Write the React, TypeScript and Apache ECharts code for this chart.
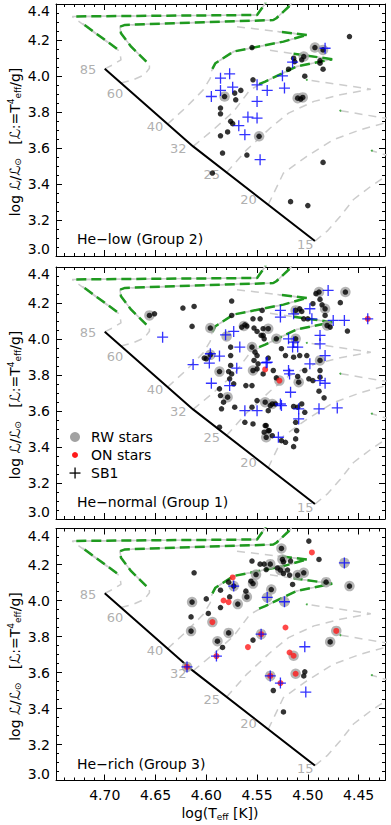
import React, { useEffect, useRef } from "react";
import * as echarts from "echarts";

const FONT = "'DejaVu Sans', sans-serif";
const X_MIN = 4.424;
const X_MAX = 4.748;
const Y_MIN = 3.0;
const Y_MAX = 4.4;
const xMajorTicks = [4.45, 4.5, 4.55, 4.6, 4.65, 4.7];
const xMinorTicks = [4.43, 4.44, 4.46, 4.47, 4.48, 4.49, 4.51, 4.52, 4.53, 4.54, 4.56, 4.57, 4.58, 4.59, 4.61, 4.62, 4.63, 4.64, 4.66, 4.67, 4.68, 4.69, 4.71, 4.72, 4.73, 4.74];

const GRID_LEFT = 56;
const GRID_W = 329;
const GRID_H = 252;
const GRID_TOPS = [4, 267, 528.5];

const panelNames = ["He\u2212low (Group 2)", "He\u2212normal (Group 1)", "He\u2212rich (Group 3)"];
const legendNames = ["RW stars", "ON stars", "SB1"];

// ZAMS and evolutionary tracks (identical in every panel)
const zams = [[4.7, 4.04], [4.613, 3.609], [4.493, 3.083]];
const track85 = [[4.7, 4.04], [4.692, 4.062], [4.684, 4.09], [4.685, 4.127], [4.687, 4.145], [4.732, 4.33], [4.55, 4.339], [4.543, 4.395], [4.538, 4.45]];
const track60 = [[4.684, 3.961], [4.672, 3.979], [4.661, 4.006], [4.656, 4.043], [4.656, 4.062], [4.659, 4.08], [4.674, 4.163], [4.684, 4.237], [4.685, 4.274], [4.68, 4.284], [4.534, 4.311], [4.531, 4.321], [4.517, 4.395], [4.512, 4.45]];
const track40 = [[4.638, 3.733], [4.619, 3.831], [4.603, 3.923], [4.596, 3.988], [4.595, 4.025], [4.591, 4.071], [4.573, 4.136], [4.524, 4.191], [4.501, 4.228], [4.57, 4.274]];
const track32 = [[4.613, 3.609], [4.593, 3.702], [4.573, 3.803], [4.557, 3.923], [4.542, 3.969], [4.511, 4.053], [4.476, 4.093], [4.54, 4.145]];
const track25 = [[4.58, 3.464], [4.56, 3.591], [4.537, 3.711], [4.519, 3.794], [4.494, 3.859], [4.468, 3.896], [4.438, 3.927], [4.501, 3.979]];
const track20 = [[4.539, 3.285], [4.524, 3.461], [4.501, 3.554], [4.475, 3.646], [4.448, 3.702], [4.424, 3.739], [4.4, 3.775], [4.4, 3.785], [4.424, 3.766], [4.468, 3.807]];
const track15 = [[4.493, 3.083], [4.481, 3.138], [4.468, 3.221], [4.455, 3.314], [4.438, 3.387], [4.424, 3.439], [4.4, 3.47], [4.4, 3.55], [4.424, 3.563], [4.437, 3.585]];

const green85a = [[4.688, 4.152], [4.722, 4.292]];
const green85b = [[4.728, 4.331], [4.55, 4.339], [4.543, 4.395], [4.538, 4.45]];
const green60 = [[4.659, 4.08], [4.674, 4.163], [4.684, 4.237], [4.685, 4.274], [4.68, 4.284], [4.534, 4.311], [4.531, 4.321], [4.517, 4.395], [4.512, 4.45]];
const green40a = [[4.594, 4.04], [4.591, 4.071], [4.573, 4.136], [4.524, 4.191], [4.501, 4.228]];
const green40b = [[4.501, 4.228], [4.53, 4.247]];
const green32a = [[4.548, 3.955], [4.542, 3.969], [4.511, 4.053], [4.476, 4.093]];
const green32b = [[4.476, 4.093], [4.514, 4.124]];
const greenDots = [[4.501, 3.979], [4.468, 3.807], [4.437, 3.585]];

const massNames = ["85", "60", "40", "32", "25", "20", "15"];
const massLabelPos = [[4.7165, 4.034], [4.69, 3.905], [4.6506, 3.72], [4.6276, 3.596], [4.5947, 3.452], [4.5585, 3.314], [4.5026, 3.064]];

// Panel 1: He-low (Group 2)
const dots1 = [[4.555, 4.158], [4.459, 4.219], [4.493, 4.158], [4.485, 4.145], [4.514, 4.099], [4.513, 4.08], [4.506, 4.09], [4.504, 4.108], [4.488, 4.086], [4.488, 4.071], [4.485, 4.038], [4.519, 4.038], [4.503, 3.999], [4.554, 3.979], [4.566, 3.92], [4.572, 3.905], [4.571, 3.868], [4.582, 3.886], [4.586, 3.822], [4.586, 3.79], [4.576, 3.748], [4.574, 3.735], [4.579, 3.689], [4.586, 3.668], [4.548, 3.665], [4.51, 3.877], [4.507, 3.872], [4.505, 3.881], [4.584, 3.572], [4.56, 3.561], [4.594, 3.461], [4.485, 3.52], [4.517, 3.302], [4.5, 3.28]];
const rw1 = [[4.582, 3.886], [4.548, 3.665], [4.493, 4.158], [4.485, 4.145], [4.504, 4.108], [4.51, 3.877], [4.505, 3.881]];
const on1: number[][] = [];
const sb1_1 = [[4.586, 3.988], [4.577, 4.012], [4.595, 3.886], [4.586, 3.92], [4.574, 3.938], [4.55, 3.951], [4.54, 3.92], [4.55, 3.859], [4.559, 3.772], [4.55, 3.766], [4.568, 3.724], [4.562, 3.674], [4.547, 3.535], [4.525, 4.001], [4.523, 3.933], [4.515, 4.077], [4.483, 4.154]];

// Panel 2: He-normal (Group 1)
const dots2 = [[4.656, 4.131], [4.651, 4.14], [4.623, 4.172], [4.612, 4.181], [4.575, 4.211], [4.614, 4.07], [4.575, 4.131], [4.596, 4.061], [4.565, 4.066], [4.562, 4.079], [4.56, 4.072], [4.554, 4.112], [4.547, 4.112], [4.553, 4.061], [4.55, 4.042], [4.546, 4.02], [4.543, 4.001], [4.539, 4.057], [4.555, 3.955], [4.552, 3.927], [4.55, 3.908], [4.553, 3.881], [4.549, 3.862], [4.554, 3.825], [4.55, 3.834], [4.539, 3.894], [4.576, 3.955], [4.576, 3.908], [4.576, 3.853], [4.578, 3.819], [4.602, 3.894], [4.6, 3.89], [4.596, 3.912], [4.587, 3.819], [4.489, 4.261], [4.492, 4.252], [4.463, 4.261], [4.488, 4.22], [4.468, 4.202], [4.545, 4.159], [4.512, 4.159], [4.508, 4.168], [4.506, 4.153], [4.483, 4.168], [4.486, 4.19], [4.495, 4.196], [4.483, 4.131], [4.504, 4.112], [4.5, 4.112], [4.481, 4.075], [4.478, 4.066], [4.461, 4.044], [4.531, 4.001], [4.512, 4.001], [4.544, 4.057], [4.544, 4.02], [4.526, 3.946], [4.522, 3.908], [4.514, 3.899], [4.508, 3.908], [4.501, 3.908], [4.503, 3.825], [4.534, 3.825], [4.488, 3.825], [4.488, 3.881], [4.575, 3.806], [4.577, 3.779], [4.573, 3.751], [4.561, 3.741], [4.555, 3.741], [4.587, 3.723], [4.586, 3.686], [4.579, 3.677], [4.583, 3.649], [4.585, 3.612], [4.572, 3.621], [4.555, 3.621], [4.55, 3.658], [4.542, 3.649], [4.539, 3.602], [4.562, 3.537], [4.554, 3.528], [4.542, 3.519], [4.539, 3.491], [4.587, 3.51], [4.544, 3.806], [4.531, 3.784], [4.51, 3.792], [4.499, 3.779], [4.495, 3.769], [4.488, 3.788], [4.509, 3.76], [4.489, 3.71], [4.484, 3.673], [4.535, 3.639], [4.537, 3.63], [4.532, 3.639], [4.51, 3.621], [4.506, 3.639], [4.514, 3.625], [4.503, 3.593], [4.512, 3.537], [4.511, 3.491], [4.512, 3.445], [4.514, 3.402], [4.541, 3.519], [4.543, 3.482], [4.538, 3.491], [4.535, 3.463], [4.541, 3.454], [4.526, 3.435], [4.522, 3.426]];
const rw2 = [[4.656, 4.131], [4.596, 4.061], [4.563, 4.072], [4.539, 4.057], [4.555, 3.955], [4.554, 3.825], [4.596, 3.912], [4.587, 3.819], [4.489, 4.261], [4.463, 4.261], [4.512, 4.159], [4.483, 4.168], [4.481, 4.075], [4.531, 4.001], [4.512, 4.001], [4.488, 3.881], [4.579, 3.677], [4.542, 3.649], [4.541, 3.454], [4.528, 3.769], [4.509, 3.76], [4.535, 3.639], [4.58, 4.014]];
const on2 = [[4.542, 3.831], [4.528, 3.769], [4.441, 4.112]];
const sb1_2 = [[4.643, 4.01], [4.613, 3.858], [4.596, 3.918], [4.597, 3.866], [4.587, 3.905], [4.581, 4.023], [4.573, 4.042], [4.567, 3.955], [4.57, 3.838], [4.541, 3.868], [4.527, 4.159], [4.527, 4.122], [4.514, 4.14], [4.498, 4.168], [4.48, 4.27], [4.475, 4.103], [4.464, 4.103], [4.496, 4.112], [4.441, 4.112], [4.519, 4.001], [4.514, 3.983], [4.51, 3.955], [4.515, 3.955], [4.488, 4.02], [4.488, 3.973], [4.483, 3.908], [4.54, 3.871], [4.498, 3.862], [4.519, 3.825], [4.595, 3.754], [4.577, 3.741], [4.562, 3.602], [4.55, 3.602], [4.518, 3.806], [4.488, 3.769], [4.483, 3.754], [4.517, 3.704], [4.527, 3.639], [4.526, 3.63], [4.509, 3.612], [4.489, 3.612], [4.471, 3.617], [4.509, 3.556], [4.529, 3.454]];

// Panel 3: He-rich (Group 3)
const dots3 = [[4.499, 4.33], [4.526, 4.289], [4.489, 4.228], [4.555, 4.219], [4.547, 4.202], [4.543, 4.202], [4.537, 4.202], [4.525, 4.228], [4.524, 4.215], [4.517, 4.219], [4.53, 4.181], [4.527, 4.169], [4.524, 4.15], [4.52, 4.169], [4.518, 4.141], [4.541, 4.172], [4.551, 4.144], [4.51, 4.141], [4.504, 4.154], [4.515, 4.089], [4.482, 4.102], [4.459, 4.08], [4.556, 4.107], [4.554, 4.094], [4.578, 4.102], [4.573, 4.08], [4.586, 4.057], [4.577, 4.02], [4.569, 3.98], [4.561, 4.052], [4.56, 4.02], [4.536, 4.061], [4.6, 4.009], [4.615, 3.909], [4.614, 3.991], [4.598, 3.928], [4.615, 3.83], [4.589, 3.774], [4.584, 3.739], [4.578, 3.82], [4.554, 3.78], [4.478, 3.77], [4.534, 3.5], [4.504, 3.581], [4.503, 3.604], [4.524, 3.381], [4.586, 3.961], [4.612, 4.154]];
const rw3 = [[4.526, 4.289], [4.464, 4.209], [4.537, 4.202], [4.525, 4.228], [4.551, 4.144], [4.527, 4.169], [4.51, 4.141], [4.504, 4.154], [4.482, 4.102], [4.459, 4.08], [4.554, 4.094], [4.573, 4.08], [4.569, 3.98], [4.56, 4.02], [4.536, 4.061], [4.54, 4.017], [4.523, 3.993], [4.614, 3.991], [4.615, 3.83], [4.594, 3.88], [4.589, 3.774], [4.578, 3.82], [4.546, 3.813], [4.472, 3.831], [4.478, 3.77], [4.514, 3.693], [4.619, 3.631], [4.537, 3.581], [4.512, 3.593]];
const on3 = [[4.496, 4.267], [4.574, 4.128], [4.583, 4.0], [4.578, 3.991], [4.594, 3.88], [4.59, 3.691], [4.559, 3.741], [4.546, 3.813], [4.522, 3.85], [4.472, 3.831], [4.518, 3.711], [4.514, 3.693], [4.619, 3.631], [4.537, 3.581], [4.527, 3.541], [4.512, 3.593]];
const sb1_3 = [[4.464, 4.209], [4.573, 4.08], [4.54, 4.017], [4.523, 3.993], [4.59, 3.691], [4.546, 3.813], [4.503, 3.743], [4.619, 3.631], [4.537, 3.581], [4.527, 3.541], [4.502, 3.491]];

const panels = [
  { dots: dots1, rw: rw1, on: on1, sb1: sb1_1 },
  { dots: dots2, rw: rw2, on: on2, sb1: sb1_2 },
  { dots: dots3, rw: rw3, on: on3, sb1: sb1_3 },
];

const tracks = [track85, track60, track40, track32, track25, track20, track15];
const greenSegs = [green85a, green85b, green60, green40a, green40b, green32a, green32b];

const PLUS = "path://M4.4,0H5.6V4.4H10V5.6H5.6V10H4.4V5.6H0V4.4H4.4Z";
const GREY_TRACK = "#cccccc";
const GREEN = "#1f9a1f";
const RW_GREY = "#a2a2a2";
const RED = "#ff1a1a";
const BLUE = "#0000ff";

function buildOption() {
  const grid: any[] = [];
  const xAxis: any[] = [];
  const yAxis: any[] = [];
  const series: any[] = [];
  const graphic: any[] = [];
  const tickLine = { color: "#000", width: 1 };

  for (let g = 0; g < 3; g++) {
    grid.push({ left: GRID_LEFT, top: GRID_TOPS[g], width: GRID_W, height: GRID_H });
    const base = { gridIndex: g, type: "value", min: X_MIN, max: X_MAX, inverse: true, splitLine: { show: false } };
    xAxis.push({
      ...base, position: "bottom",
      axisLine: { show: true, onZero: false, lineStyle: tickLine },
      axisTick: { show: true, inside: true, length: 6, customValues: xMajorTicks, lineStyle: tickLine },
      axisLabel: { show: g === 2, customValues: xMajorTicks, formatter: (v: number) => v.toFixed(2), color: "#000", fontSize: 14, fontFamily: FONT, margin: 7 },
    });
    xAxis.push({
      ...base, position: "bottom",
      axisLine: { show: false },
      axisTick: { show: true, inside: true, length: 3, customValues: xMinorTicks, lineStyle: tickLine },
      axisLabel: { show: false },
    });
    xAxis.push({
      ...base, position: "top",
      axisLine: { show: true, onZero: false, lineStyle: tickLine },
      axisTick: { show: true, inside: true, length: 6, customValues: xMajorTicks, lineStyle: tickLine },
      axisLabel: { show: false },
    });
    xAxis.push({
      ...base, position: "top",
      axisLine: { show: false },
      axisTick: { show: true, inside: true, length: 3, customValues: xMinorTicks, lineStyle: tickLine },
      axisLabel: { show: false },
    });
    const ybase = {
      gridIndex: g, type: "value", min: Y_MIN, max: Y_MAX, interval: 0.2,
      splitLine: { show: false },
      axisLine: { show: true, onZero: false, lineStyle: tickLine },
      axisTick: { show: true, inside: true, length: 6, lineStyle: tickLine },
      minorTick: { show: true, splitNumber: 4, length: 3, lineStyle: tickLine },
    };
    yAxis.push({
      ...ybase, position: "left",
      axisLabel: {
        show: true, formatter: (v: number) => v.toFixed(1), color: "#000", fontSize: 14, fontFamily: FONT, margin: 6,
        verticalAlignMinLabel: "bottom", verticalAlignMaxLabel: "top",
      },
    });
    yAxis.push({ ...ybase, position: "right", axisLabel: { show: false } });

    const xi = 4 * g;
    const yi = 2 * g;
    const common = { xAxisIndex: xi, yAxisIndex: yi, silent: true, animation: false };

    tracks.forEach((t) => {
      series.push({ ...common, type: "line", data: t, showSymbol: false, symbol: "none", clip: true,
        lineStyle: { color: GREY_TRACK, width: 1.5, type: [8, 6] }, z: 1 });
    });
    greenSegs.forEach((t) => {
      series.push({ ...common, type: "line", data: t, showSymbol: false, symbol: "none", clip: true,
        lineStyle: { color: GREY_TRACK, width: 1.5, type: "solid" }, z: 2 });
      series.push({ ...common, type: "line", data: t, showSymbol: false, symbol: "none", clip: true,
        lineStyle: { color: GREEN, width: 2.5, type: [10, 5] }, z: 3 });
    });
    series.push({ ...common, type: "scatter", data: greenDots, symbolSize: 2, itemStyle: { color: GREEN }, z: 3 });
    series.push({ ...common, type: "line", data: zams, showSymbol: false, symbol: "none",
      lineStyle: { color: "#000", width: 2 }, z: 4 });
    series.push({
      ...common, type: "scatter", z: 4, symbolSize: 1, itemStyle: { color: "rgba(0,0,0,0)" },
      data: massNames.map((n, i) => ({ name: n, value: massLabelPos[i] })),
      label: { show: true, position: "inside", formatter: (p: any) => p.name, color: "#9a9a9a", fontSize: 13, fontFamily: FONT },
    });
    const P = panels[g];
    series.push({ ...common, type: "scatter", data: P.rw, symbolSize: 10.5, itemStyle: { color: RW_GREY }, z: 5 });
    series.push({ ...common, type: "scatter", data: P.dots, symbolSize: 5.5, itemStyle: { color: "#000" }, z: 6 });
    if (P.on.length) series.push({ ...common, type: "scatter", data: P.on, symbolSize: 6, itemStyle: { color: RED }, z: 7 });
    series.push({ ...common, type: "scatter", data: P.sb1, symbol: PLUS, symbolSize: 11, itemStyle: { color: BLUE }, z: 8 });

    graphic.push({
      type: "text", x: 77, y: GRID_TOPS[g] + 235, z: 10,
      style: { text: panelNames[g], font: `14px ${FONT}`, fill: "#000", verticalAlign: "middle", align: "left" },
    });
    graphic.push({
      type: "text", x: 14.5, y: GRID_TOPS[g] + 138, rotation: Math.PI / 2, z: 10,
      style: {
        text: "log {s|\u2112}/{s|\u2112}{sub|\u2299}   [{s|\u2112}:=T{sup|4}{sub|eff}/g]",
        font: `14px ${FONT}`, fill: "#000", align: "center", verticalAlign: "middle",
        rich: {
          s: { fontSize: 14, fontFamily: FONT, fill: "#000" },
          sub: { fontSize: 9, fontFamily: FONT, padding: [7, 0, 0, 0], fill: "#000" },
          sup: { fontSize: 9, fontFamily: FONT, padding: [0, 0, 7, 0], fill: "#000" },
        },
      },
    });
  }

  // legend in the middle panel
  const lt = GRID_TOPS[1];
  graphic.push({ type: "circle", shape: { cx: 75, cy: lt + 170, r: 5 }, style: { fill: RW_GREY }, z: 10 });
  graphic.push({ type: "circle", shape: { cx: 75, cy: lt + 188, r: 3 }, style: { fill: RED }, z: 10 });
  graphic.push({ type: "rect", shape: { x: 69.5, y: lt + 205.4, width: 11, height: 1.3 }, style: { fill: "#000" }, z: 10 });
  graphic.push({ type: "rect", shape: { x: 74.4, y: lt + 200.5, width: 1.3, height: 11 }, style: { fill: "#000" }, z: 10 });
  legendNames.forEach((n, i) => {
    graphic.push({ type: "text", x: 91, y: lt + 170 + 18 * i, z: 10,
      style: { text: n, font: `14px ${FONT}`, fill: "#000", verticalAlign: "middle", align: "left" } });
  });

  // x axis title
  graphic.push({
    type: "text", x: 220, y: 813, z: 10,
    style: {
      text: "log(T{sub|eff} [K])", font: `14px ${FONT}`, fill: "#000", align: "center", verticalAlign: "middle",
      rich: { sub: { fontSize: 9, fontFamily: FONT, padding: [7, 0, 0, 0], fill: "#000" } },
    },
  });

  return { animation: false, backgroundColor: "#fff", grid, xAxis, yAxis, series, graphic };
}

export default function App() {
  const ref = useRef<HTMLDivElement>(null);
  useEffect(() => {
    if (!ref.current) return;
    const chart = echarts.init(ref.current, null, { renderer: "svg" });
    chart.setOption(buildOption() as any);
    return () => chart.dispose();
  }, []);
  return <div ref={ref} style={{ position: "absolute", left: 0, top: 0, width: 391, height: 825, background: "#fff" }} />;
}
